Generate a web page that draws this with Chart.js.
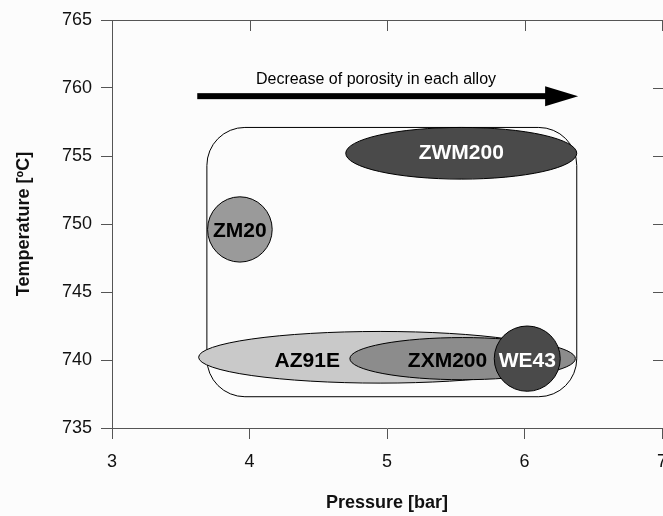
<!DOCTYPE html>
<html>
<head>
<meta charset="utf-8">
<script src="https://cdn.jsdelivr.net/npm/chart.js@4.4.0/dist/chart.umd.min.js"></script>
<style>
html, body { margin: 0; padding: 0; background: #fcfcfc; overflow: hidden; }
#wrap { width: 668px; height: 516px; }
</style>
</head>
<body>
<div id="wrap"><canvas id="myChart"></canvas></div>
<script>
// alloys, centre of each region (pressure / temperature) and half spread
var alloys = ['AZ91E', 'ZXM200', 'WE43', 'ZM20', 'ZWM200'];
var pressure = [4.95, 5.55, 6.02, 3.93, 5.54];
var temperature = [740.2, 740.1, 740.1, 749.6, 755.2];
var spreadP = [1.32, 0.82, 0.24, 0.235, 0.84];
var spreadT = [1.9, 1.55, 2.4, 2.4, 1.9];
var labelP = [4.42, 5.44, 6.02, 3.93, 5.54];
var labelT = [739.9, 739.9, 739.9, 749.5, 755.2];
var fills = ['#c9c9c9', '#8c8c8c', '#4a4a4a', '#9a9a9a', '#4a4a4a'];
var textColors = ['#000', '#000', '#fff', '#000', '#fff'];

// box round all alloys, and the arrow
var regionP = [3.69, 6.38];
var regionT = [737.3, 757.1];
var arrowP = [3.62, 6.39];
var arrowT = 759.4;
var arrowTextP = 4.92;
var arrowTextT = 760.6;
var arrowText = 'Decrease of porosity in each alloy';

var xTicks = [3, 4, 5, 6, 7];
var yTicks = [735, 740, 745, 750, 755, 760, 765];

var FONT = '"Liberation Sans", Arial, sans-serif';

var shapes = {
    id: 'shapes',
    beforeDatasetsDraw: function (chart) {
        var ctx = chart.ctx, x = chart.scales.x, y = chart.scales.y;
        var a = chart.chartArea;
        ctx.save();

        // rounded box
        var l = x.getPixelForValue(regionP[0]), r = x.getPixelForValue(regionP[1]);
        var t = y.getPixelForValue(regionT[1]), b = y.getPixelForValue(regionT[0]);
        ctx.beginPath();
        ctx.roundRect(l, t, r - l, b - t, 38);
        ctx.strokeStyle = '#000';
        ctx.lineWidth = 1;
        ctx.stroke();

        // arrow
        var ay = y.getPixelForValue(arrowT);
        var ax0 = x.getPixelForValue(arrowP[0]), ax1 = x.getPixelForValue(arrowP[1]);
        ctx.fillStyle = '#000';
        ctx.fillRect(ax0, ay - 3, ax1 - ax0 - 30, 6);
        ctx.beginPath();
        ctx.moveTo(ax1 - 33, ay - 10);
        ctx.lineTo(ax1, ay);
        ctx.lineTo(ax1 - 33, ay + 10);
        ctx.closePath();
        ctx.fill();
        ctx.font = '16px ' + FONT;
        ctx.textAlign = 'center';
        ctx.textBaseline = 'middle';
        ctx.fillText(arrowText, x.getPixelForValue(arrowTextP), y.getPixelForValue(arrowTextT));

        // alloy ellipses
        for (var i = 0; i < alloys.length; i++) {
            var cx = x.getPixelForValue(pressure[i]);
            var cy = y.getPixelForValue(temperature[i]);
            var rx = Math.abs(x.getPixelForValue(pressure[i] + spreadP[i]) - cx);
            var ry = Math.abs(y.getPixelForValue(temperature[i] + spreadT[i]) - cy);
            ctx.beginPath();
            ctx.ellipse(cx, cy, rx, ry, 0, 0, Math.PI * 2);
            ctx.fillStyle = fills[i];
            ctx.fill();
            ctx.strokeStyle = '#000';
            ctx.lineWidth = 1;
            ctx.stroke();
        }
        ctx.font = 'bold 21px ' + FONT;
        for (var j = 0; j < alloys.length; j++) {
            ctx.fillStyle = textColors[j];
            ctx.fillText(alloys[j], x.getPixelForValue(labelP[j]), y.getPixelForValue(labelT[j]));
        }

        // top border and inner ticks on top / right
        ctx.strokeStyle = '#555';
        ctx.beginPath();
        ctx.moveTo(a.left, a.top + 0.5);
        ctx.lineTo(a.right + 2, a.top + 0.5);
        xTicks.forEach(function (v) {
            var px = Math.round(x.getPixelForValue(v)) + 0.5;
            ctx.moveTo(px, a.top);
            ctx.lineTo(px, a.top + 11);
        });
        yTicks.forEach(function (v) {
            var py = Math.round(y.getPixelForValue(v)) + 0.5;
            ctx.moveTo(a.right - 9, py);
            ctx.lineTo(a.right + 2, py);
        });
        ctx.stroke();
        ctx.restore();
    }
};

var ctx = document.getElementById('myChart').getContext('2d');
var chart = new Chart(ctx, {
    type: 'scatter',
    data: {
        datasets: [{
            label: 'alloys',
            data: pressure.map(function (p, i) { return { x: p, y: temperature[i] }; }),
            pointRadius: 0
        }]
    },
    options: {
        responsive: true,
        maintainAspectRatio: false,
        animation: false,
        layout: { padding: { top: 20, right: 6, left: 0, bottom: 0 } },
        plugins: { legend: { display: false }, tooltip: { enabled: false } },
        scales: {
            x: {
                type: 'linear',
                min: 3, max: 7,
                afterFit: function (s) { s.height = 88; s.paddingLeft = 0; s.paddingRight = 0; },
                afterBuildTicks: function (s) { s.ticks = xTicks.map(function (v) { return { value: v }; }); },
                ticks: { color: '#111', padding: 12, font: { family: FONT, size: 18 } },
                grid: { drawOnChartArea: false, tickLength: 11, color: '#555' },
                border: { color: '#555' },
                title: { display: true, text: 'Pressure [bar]', color: '#111',
                    font: { family: FONT, size: 18, weight: 'bold' }, padding: { top: 0, bottom: 2 } }
            },
            y: {
                type: 'linear',
                min: 735, max: 765,
                afterFit: function (s) { s.width = 112; s.paddingTop = 0; s.paddingBottom = 0; },
                afterBuildTicks: function (s) { s.ticks = yTicks.map(function (v) { return { value: v }; }); },
                ticks: { color: '#111', padding: 9, font: { family: FONT, size: 18 } },
                grid: { drawOnChartArea: false, tickLength: 11, color: '#555' },
                border: { color: '#555' },
                title: { display: true, text: 'Temperature [ºC]', color: '#111',
                    font: { family: FONT, size: 18, weight: 'bold' }, padding: { top: 13, bottom: 0 } }
            }
        }
    },
    plugins: [shapes]
});
</script>
</body>
</html>
